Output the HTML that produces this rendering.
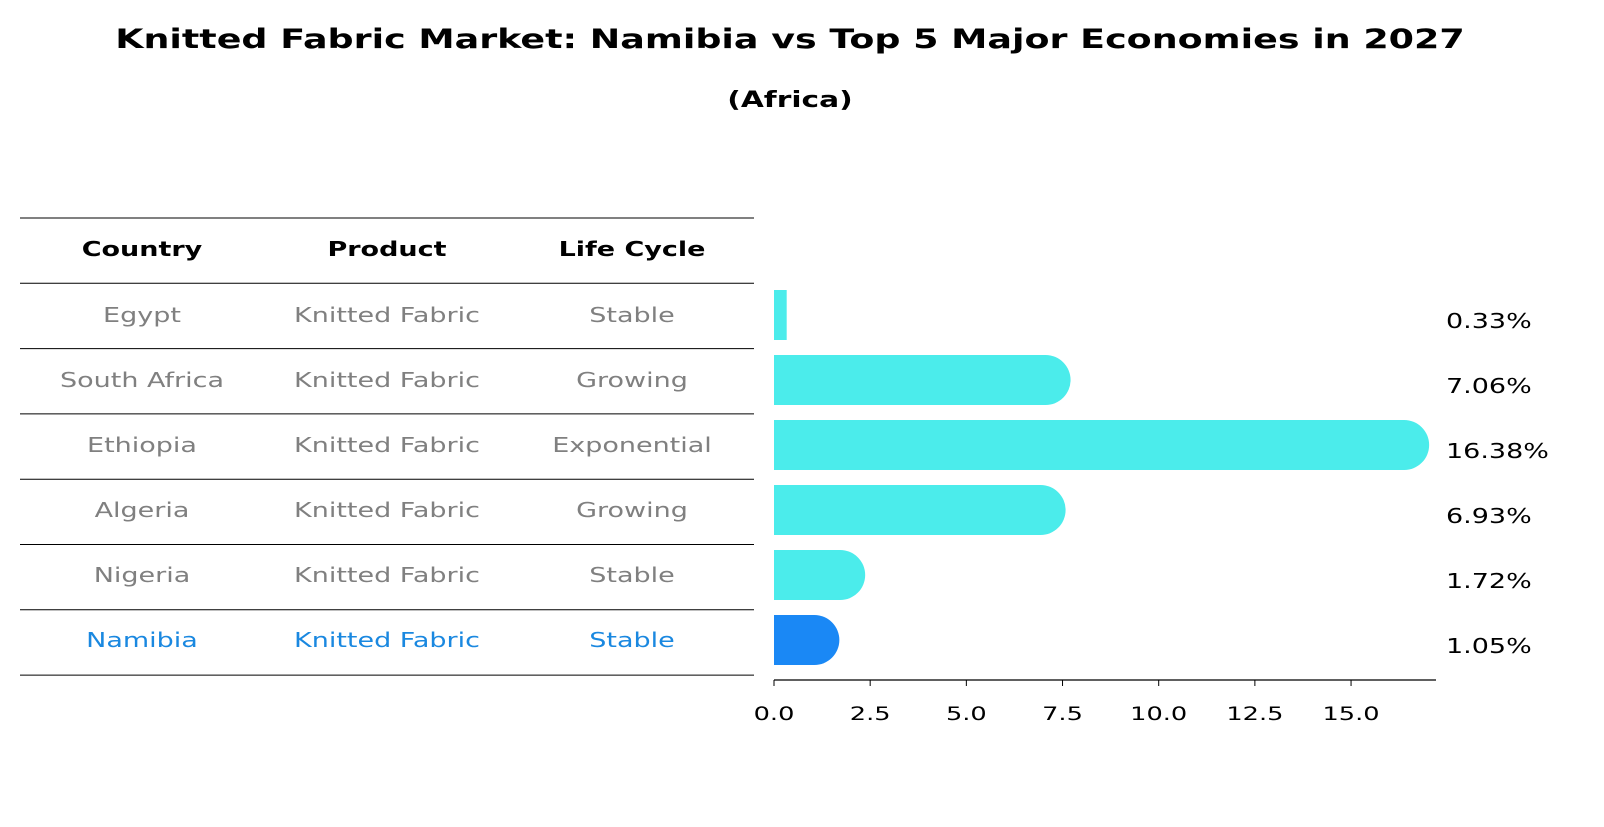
<!DOCTYPE html>
<html><head><meta charset="utf-8"><style>
body{margin:0;background:#fff;font-family:"DejaVu Sans","Liberation Sans",sans-serif;}
svg text{font-family:"DejaVu Sans","Liberation Sans",sans-serif;}
</style></head><body>
<svg id="c" width="1604" height="823" xmlns="http://www.w3.org/2000/svg">
<text x="790" y="48" text-anchor="middle" font-size="27" font-weight="bold">Knitted Fabric Market: Namibia vs Top 5 Major Economies in 2027</text>
<text x="790" y="107" text-anchor="middle" font-size="22" font-weight="bold">(Africa)</text>
<g id="tbl"></g>
<g id="bars"></g>
</svg>
<script>
const countries=["Egypt","South Africa","Ethiopia","Algeria","Nigeria","Namibia"];
const products=["Knitted Fabric","Knitted Fabric","Knitted Fabric","Knitted Fabric","Knitted Fabric","Knitted Fabric"];
const lifeCycles=["Stable","Growing","Exponential","Growing","Stable","Stable"];
const values=[0.33,7.06,16.38,6.93,1.72,1.05];
const tickLabels=[0,2.5,5,7.5,10,12.5,15];
const NS="http://www.w3.org/2000/svg";
function mk(t,a,p){const e=document.createElementNS(NS,t);for(const k in a)e.setAttribute(k,a[k]);p.appendChild(e);return e;}
const tbl=document.getElementById('tbl'),bars=document.getElementById('bars');
const x0=774,sx=38.47;const X=v=>x0+v*sx;
const rowY=i=>315+i*65;
const colX=[142,387,632];
["Country","Product","Life Cycle"].forEach((h,j)=>{const t=mk('text',{x:colX[j],y:256,'text-anchor':'middle','font-size':20,'font-weight':'bold'},tbl);t.textContent=h;

});
for(let k=0;k<=7;k++){const y=218+k*65.3;const l=mk('line',{x1:20,x2:754,y1:y,y2:y,stroke:'#000','stroke-width':1},tbl);

}
countries.forEach((c,i)=>{const col=i==5?'#1a88e0':'#808080';
[c,products[i],lifeCycles[i]].forEach((s,j)=>{const t=mk('text',{x:colX[j],y:rowY(i)+7,'text-anchor':'middle','font-size':20,fill:col},tbl);t.textContent=s;

});
const w=X(values[i])-x0,h=50,y=rowY(i)-25,r=25,fill=i==5?'#1a88f5':'#4beceb';
let d;
if(w>r){d=`M${x0},${y}H${x0+w}A${r},${r} 0 0 1 ${x0+w},${y+h}H${x0}Z`;}else{d=`M${x0},${y}H${x0+w}V${y+h}H${x0}Z`;}
const b=mk('path',{d:d,fill:fill},bars);


const t=mk('text',{x:1446,y:rowY(i)+13,'font-size':20},bars);t.textContent=values[i].toFixed(2)+'%';


});
const ax=mk('line',{x1:x0,x2:1436,y1:680,y2:680,stroke:'#000','stroke-width':1.3},bars);


tickLabels.forEach(v=>{const tk=mk('line',{x1:X(v),x2:X(v),y1:680,y2:686,stroke:'#000'},bars);


const t=mk('text',{x:X(v),y:720,'text-anchor':'middle','font-size':19},bars);t.textContent=v.toFixed(1);

});
// widen text horizontally to match reference glyph proportions
document.querySelectorAll('svg text').forEach(t=>{
  const x=parseFloat(t.getAttribute('x'));
  const anchor=t.getAttribute('text-anchor')||'start';
  const sc=1.35;
  // keep anchor point fixed
  t.setAttribute('transform',`translate(${x},0) scale(${sc},1) translate(${-x},0)`);
});
</script>
</body></html>
